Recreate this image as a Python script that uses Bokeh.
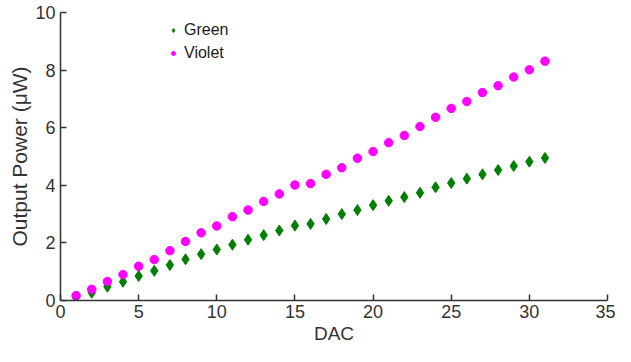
from bokeh.plotting import figure
from bokeh.models import Range1d, Legend, LegendItem, FixedTicker
from bokeh.embed import file_html
from bokeh.resources import INLINE

dac = list(range(1, 32))
green = [0.10, 0.27, 0.48, 0.65, 0.85, 1.03, 1.23, 1.43, 1.61, 1.77,
         1.94, 2.11, 2.27, 2.43, 2.60, 2.66, 2.83, 3.00, 3.14, 3.31,
         3.46, 3.59, 3.74, 3.93, 4.08, 4.23, 4.38, 4.53, 4.67, 4.82, 4.95]
violet = [0.17, 0.39, 0.66, 0.90, 1.19, 1.42, 1.73, 2.05, 2.35, 2.59,
          2.91, 3.14, 3.44, 3.70, 4.01, 4.06, 4.38, 4.61, 4.94, 5.17,
          5.48, 5.73, 6.04, 6.36, 6.67, 6.91, 7.22, 7.46, 7.76, 8.01, 8.31]
x_ticks = [0, 5, 10, 15, 20, 25, 30, 35]
y_ticks = [0, 2, 4, 6, 8, 10]

FONT = "Liberation Sans"
AXC = "#333333"

p = figure(width=615, height=346, output_backend="svg", toolbar_location=None,
           x_range=Range1d(0, 35), y_range=Range1d(0, 10),
           min_border_left=60, min_border_right=8, min_border_top=12, min_border_bottom=46)
p.outline_line_color = None
p.xgrid.visible = False
p.ygrid.visible = False

g = p.scatter(dac, green, marker="diamond", size=11, fill_color="#007f00", line_color="#007f00")
v = p.scatter(dac, violet, marker="circle", size=8.5, fill_color="#ff00ff", line_color="#ff00ff")

for ax in (p.xaxis[0], p.yaxis[0]):
    ax.axis_line_color = AXC
    ax.axis_line_width = 1.5
    ax.major_tick_line_color = AXC
    ax.major_tick_line_width = 1.5
    ax.major_tick_in = 6
    ax.major_tick_out = 0
    ax.minor_tick_line_color = None
    ax.major_label_text_font = FONT
    ax.major_label_text_font_size = "18px"
    ax.major_label_text_color = AXC
    ax.axis_label_text_font = FONT
    ax.axis_label_text_font_size = "19px"
    ax.axis_label_text_color = AXC
    ax.axis_label_text_font_style = "normal"

p.xaxis.ticker = FixedTicker(ticks=x_ticks)
p.yaxis.ticker = FixedTicker(ticks=y_ticks)
p.xaxis.axis_label = "DAC"
p.yaxis.axis_label = "Output Power (\u03bcW)"
p.yaxis.axis_label_text_font_size = "21px"
p.xaxis.major_label_standoff = 4
p.xaxis.axis_label_standoff = 2
p.yaxis.major_label_standoff = 5
p.yaxis.axis_label_standoff = 1

legend = Legend(items=[LegendItem(label="Green", renderers=[g]),
                       LegendItem(label="Violet", renderers=[v])],
                location=(108, 237), padding=0, margin=0, spacing=3,
                glyph_width=10, glyph_height=20, label_height=20, label_standoff=6,
                label_text_font=FONT, label_text_font_size="16px", label_text_color="#1a1a1a",
                border_line_color=None, background_fill_alpha=0)
p.add_layout(legend, "center")

open("out.html", "w").write(file_html(p, INLINE))
